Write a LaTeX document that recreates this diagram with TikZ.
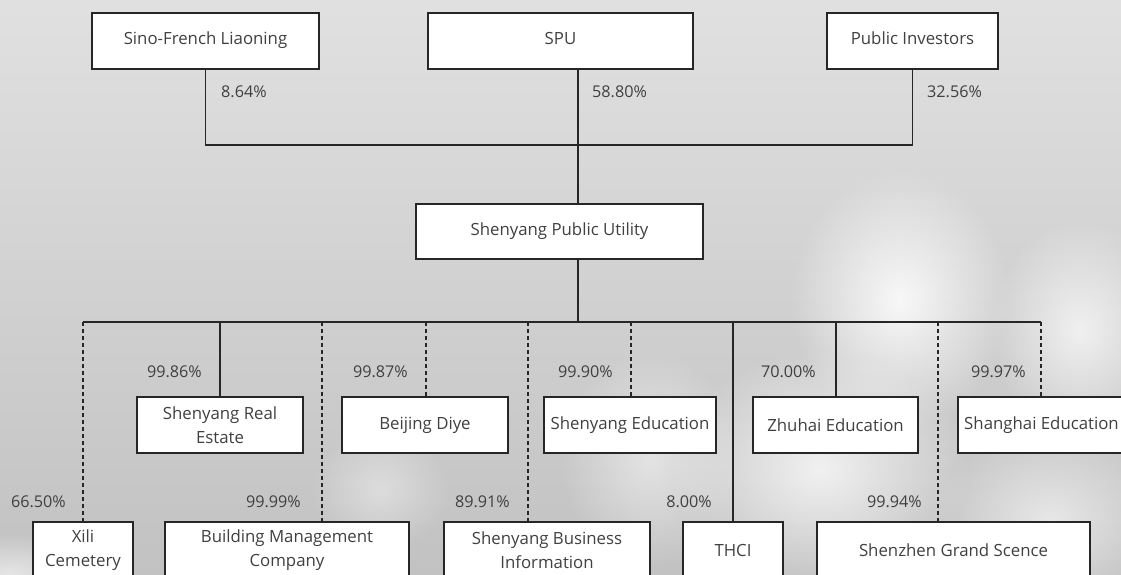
\documentclass[tikz,border=0pt]{standalone}
\usepackage{fontspec}
\setmainfont{Open Sans}
\usetikzlibrary{fadings}
\tikzfading[name=fuzzy, inner color=transparent!0, outer color=transparent!100]
\begin{document}
\begin{tikzpicture}[x=1pt,y=-1pt,
  ent/.style={draw=black!85, line width=1.1pt, fill=white, inner sep=0pt, align=center,
    font=\fontsize{16.8}{24}\selectfont, text=black!75},
  lnk/.style={draw=black!85, line width=1.1pt},
  dsh/.style={lnk, dash pattern=on 4pt off 3pt},
  pct/.style={font=\fontsize{16.2}{20}\selectfont, text=black!75, inner sep=0pt},
  cloud/.style={fill=white, path fading=fuzzy}]
\useasboundingbox (0,0) rectangle (1121,574);
\clip (0,0) rectangle (1121,574);
% background
\shade[top color=black!12, bottom color=black!24] (0,0) rectangle (1121,574);
\fill[cloud, opacity=0.85] (900,300) ellipse (110pt and 130pt);
\fill[cloud, opacity=0.75] (820,470) ellipse (150pt and 120pt);
\fill[cloud, opacity=0.7] (1080,330) ellipse (90pt and 110pt);
\fill[cloud, opacity=0.6] (1050,520) ellipse (120pt and 90pt);
\fill[cloud, opacity=0.5] (650,460) ellipse (90pt and 110pt);
\fill[cloud, opacity=0.4] (380,490) ellipse (70pt and 60pt);
\fill[cloud, opacity=0.6] (10,574) ellipse (90pt and 40pt);
% shareholders
\node[ent, minimum width=227pt, minimum height=56pt] (sfl) at (205.5,41) {\raisebox{6pt}{Sino-French Liaoning}};
\node[ent, minimum width=265pt, minimum height=56pt] (spu) at (560.5,41) {\raisebox{6pt}{SPU}};
\node[ent, minimum width=171pt, minimum height=56pt] (pinv) at (912.5,41) {\raisebox{6pt}{Public Investors}};
% company
\node[ent, minimum width=287pt, minimum height=55pt] (spuc) at (559.5,231.5) {\raisebox{4pt}{Shenyang Public Utility}};
% middle row
\node[ent, minimum width=166pt, minimum height=56pt] (sre) at (220,425) {Shenyang Real\\Estate};
\node[ent, minimum width=166pt, minimum height=56pt] (bd) at (425,425) {Beijing Diye};
\node[ent, minimum width=172pt, minimum height=56pt] (sed) at (630,425) {Shenyang Education};
\node[ent, minimum width=165pt, minimum height=56pt] (zed) at (835.5,425) {Zhuhai Education};
\node[ent, minimum width=167pt, minimum height=56pt] (shed) at (1041.5,425) {Shanghai Education};
% bottom row
\node[ent, minimum width=100pt, minimum height=56pt] (xili) at (83,550) {Xili\\Cemetery};
\node[ent, minimum width=244pt, minimum height=56pt] (bmc) at (287,550) {Building Management\\Company};
\node[ent, minimum width=206pt, minimum height=56pt] (sbi) at (547,550) {Shenyang Business\\Information};
\node[ent, minimum width=100pt, minimum height=56pt] (thci) at (733,550) {THCI};
\node[ent, minimum width=273pt, minimum height=56pt] (sgs) at (953.5,550) {Shenzhen Grand Scence};
% top connectors
\coordinate (spine) at (578,145);
\draw[lnk] (sfl.south) |- (spine) -| (pinv.south);
\draw[lnk] (spine |- spu.south) -- (spine |- spuc.north);
\coordinate (bus) at (578,322);
\draw[lnk] (spine |- spuc.south) -- (bus);
\coordinate (b1) at (83,322);
\coordinate (b2) at (220,322);
\coordinate (b3) at (322,322);
\coordinate (b4) at (426,322);
\coordinate (b5) at (528,322);
\coordinate (b6) at (631,322);
\coordinate (b7) at (733,322);
\coordinate (b8) at (836,322);
\coordinate (b9) at (938,322);
\coordinate (b10) at (1041,322);
\draw[lnk] (b1) -- (b10);
\draw[dsh] (b1) -- (b1 |- xili.north);
\draw[lnk] (b2) -- (b2 |- sre.north);
\draw[dsh] (b3) -- (b3 |- bmc.north);
\draw[dsh] (b4) -- (b4 |- bd.north);
\draw[dsh] (b5) -- (b5 |- sbi.north);
\draw[dsh] (b6) -- (b6 |- sed.north);
\draw[lnk] (b7) -- (b7 |- thci.north);
\draw[lnk] (b8) -- (b8 |- zed.north);
\draw[dsh] (b9) -- (b9 |- sgs.north);
\draw[dsh] (b10) -- (b10 |- shed.north);
% percentages
\node[pct, anchor=west] (p1) at (221,92) {8.64\%};
\node[pct, anchor=west] (p2) at (592,92) {58.80\%};
\node[pct, anchor=west] (p3) at (927,92) {32.56\%};
\node[pct, anchor=east] (p4) at (202,372) {99.86\%};
\node[pct, anchor=east] (p5) at (408,372) {99.87\%};
\node[pct, anchor=east] (p6) at (613,372) {99.90\%};
\node[pct, anchor=east] (p7) at (816,372) {70.00\%};
\node[pct, anchor=east] (p8) at (1026,372) {99.97\%};
\node[pct, anchor=east] (p9) at (66,502) {66.50\%};
\node[pct, anchor=east] (p10) at (301,502) {99.99\%};
\node[pct, anchor=east] (p11) at (510,502) {89.91\%};
\node[pct, anchor=east] (p12) at (712,502) {8.00\%};
\node[pct, anchor=east] (p13) at (922,502) {99.94\%};
\end{tikzpicture}
\end{document}
